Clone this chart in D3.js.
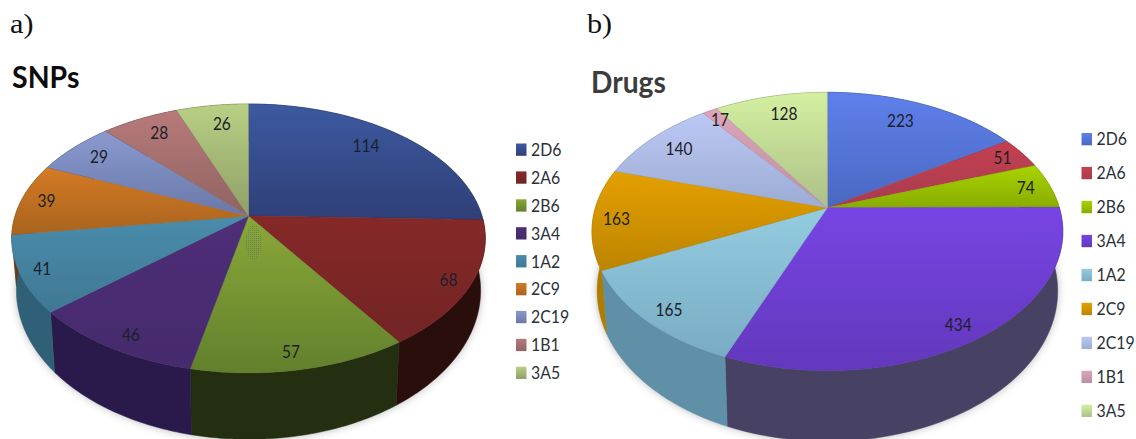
<!DOCTYPE html>
<html>
<head>
<meta charset="utf-8">
<script src="https://cdn.jsdelivr.net/npm/d3@7"></script>
<style>
  html, body { margin: 0; padding: 0; background: #fff; }
  svg { display: block; }
</style>
</head>
<body>
<svg id="chart" width="1136" height="439"></svg>
<script>
const categories = ["2D6", "2A6", "2B6", "3A4", "1A2", "2C9", "2C19", "1B1", "3A5"];

const snpValues = [114, 68, 57, 46, 41, 39, 29, 28, 26];
const snpTopLight = ["#3c5aa0", "#862828", "#8aa838", "#4e2e78", "#4a8cac", "#d47a24", "#8a9ad0", "#b87a7a", "#b8d084"];
const snpTopDark  = ["#2f3f78", "#722424", "#62802c", "#452a6c", "#3f7894", "#a8641e", "#6a78a8", "#8e6462", "#909f68"];
const snpSide     = ["#1c2850", "#2a0e0c", "#232f10", "#2a1a4c", "#2f6078", "#6a3c10", "#3c4468", "#5a3c3c", "#5c6840"];

const drugValues = [223, 51, 74, 434, 165, 163, 140, 17, 128];
const drugTopLight = ["#5f80ec", "#c4404e", "#a8d400", "#7844e4", "#94cce0", "#e4a000", "#bcc8f4", "#e0a4b8", "#d4f0a0"];
const drugTopDark  = ["#4a68c0", "#a83c50", "#88ac00", "#6238bc", "#78acc4", "#bc8400", "#9cacd4", "#b890a4", "#acc088"];
const drugSide     = ["#34487c", "#7c2c38", "#5c7400", "#474263", "#5f90a8", "#b07c00", "#7484a8", "#8c6c7c", "#84946c"];

// Label anchors on the disc: distance from the apex and position across the slice.
const snpLabelRadius  = [0.81, 0.91, 0.90, 0.90, 0.91, 0.89, 0.85, 0.83, 0.81];
const snpLabelTurn    = [0.47, 0.51, 0.52, 0.46, 0.50, 0.50, 0.52, 0.55, 0.56];
const drugLabelRadius = [0.81, 0.90, 0.89, 0.90, 0.90, 0.90, 0.84, 0.905, 0.82];
const drugLabelTurn   = [0.45, 0.46, 0.50, 0.51, 0.48, 0.49, 0.50, 0.50, 0.545];

const panels = [
  { key: "snp", tag: "a)", tagX: 10, tagY: 33, title: "SNPs", titleX: 12, titleY: 87.5, titleScale: 0.95, titleColor: "#0c0c0c",
    values: snpValues, light: snpTopLight, dark: snpTopDark, side: snpSide,
    labelRadius: snpLabelRadius, labelTurn: snpLabelTurn,
    cx: 248.5, cy: 216, rx: 233.5, ry: 130.7, k: 0.167, rimS: 0.98, rimSY: 1.107, rimD: 49.6,
    legendX: 516, legendTop: 149.5, legendStep: 27.9 },
  { key: "drug", tag: "b)", tagX: 587, tagY: 33, title: "Drugs", titleX: 591, titleY: 92.7, titleScale: 0.94, titleColor: "#3c3c3c",
    values: drugValues, light: drugTopLight, dark: drugTopDark, side: drugSide,
    labelRadius: drugLabelRadius, labelTurn: drugLabelTurn,
    cx: 827.4, cy: 207.7, rx: 232, ry: 135.1, k: 0.171, rimS: 0.978, rimSY: 1.08, rimD: 57.6,
    legendX: 1081.5, legendTop: 139, legendStep: 33.96 }
];

const sansFont = "Lato, 'Open Sans', sans-serif";

const svg = d3.select("#chart");
const defs = svg.append("defs");

const blur = defs.append("filter").attr("id", "soft").attr("x", "-20%").attr("y", "-20%").attr("width", "140%").attr("height", "140%");
blur.append("feGaussianBlur").attr("stdDeviation", 4);

const stipple = defs.append("pattern").attr("id", "stipple").attr("width", 2).attr("height", 2).attr("patternUnits", "userSpaceOnUse");
stipple.append("rect").attr("width", 1).attr("height", 1).attr("fill", "#6a8650");

// Perspective projection of a unit disc: the near edge is enlarged and the disc's
// centre lands above the middle of the resulting ellipse.
function projector(p) {
  return (angle, radius = 1) => {
    const u = Math.sin(angle) * radius, v = -Math.cos(angle) * radius;
    const w = 1 - p.k * v;
    return [p.cx + p.rx * u / w, p.cy + p.ry * v / w];
  };
}
function rimProjector(p) {
  const top = projector(p);
  return (angle) => {
    const [x, y] = top(angle);
    return [p.cx + (x - p.cx) * p.rimS, p.cy + p.rimD + (y - p.cy) * p.rimSY];
  };
}

const lineGen = d3.line();
const arcSteps = (a0, a1) => d3.range(0, 61).map(i => a0 + (a1 - a0) * i / 60);

panels.forEach(p => {
  const g = svg.append("g").attr("class", p.key);
  const slices = d3.pie().sort(null).value(d => d)(p.values);
  const top = projector(p);
  const rim = rimProjector(p);

  // Soft shadow under the disc
  g.append("path")
    .attr("d", lineGen(arcSteps(0, 2 * Math.PI).map(rim)) + "Z")
    .attr("fill", "#7a7a7a").attr("opacity", 0.55).attr("filter", "url(#soft)");

  // Outer wall
  g.selectAll("path.side").data(slices).join("path")
    .attr("class", "side")
    .attr("d", d => {
      const angles = arcSteps(d.startAngle, d.endAngle);
      return lineGen(angles.map(a => top(a)).concat(angles.slice().reverse().map(rim))) + "Z";
    })
    .attr("fill", (d, i) => p.side[i])
    .attr("stroke", (d, i) => p.side[i]).attr("stroke-width", 0.5);

  // Top face, each wedge shaded from far edge to apex
  slices.forEach((d, i) => {
    const grad = defs.append("linearGradient").attr("id", `${p.key}-top-${i}`)
      .attr("x1", 0).attr("y1", 0).attr("x2", 0).attr("y2", 1);
    grad.append("stop").attr("offset", "0%").attr("stop-color", p.light[i]);
    grad.append("stop").attr("offset", "100%").attr("stop-color", p.dark[i]);
  });
  g.selectAll("path.top").data(slices).join("path")
    .attr("class", "top")
    .attr("d", d => lineGen([[p.cx, p.cy]].concat(arcSteps(d.startAngle, d.endAngle).map(a => top(a)))) + "Z")
    .attr("fill", (d, i) => `url(#${p.key}-top-${i})`)
    .attr("stroke", (d, i) => p.dark[i]).attr("stroke-width", 0.4);

  // Value labels, set in a narrowed face
  g.selectAll("text.value").data(slices).join("text")
    .attr("class", "value")
    .attr("transform", (d, i) => {
      const a = d.startAngle + (d.endAngle - d.startAngle) * p.labelTurn[i];
      const [x, y] = top(a, p.labelRadius[i]);
      return `translate(${x},${y}) scale(0.86,1)`;
    })
    .attr("text-anchor", "middle").attr("dy", "0.36em")
    .attr("font-family", sansFont)
    .attr("font-size", 18).attr("fill", "#1c2028")
    .text(d => d.value);

  // Panel tag and heading
  g.append("text").attr("transform", `translate(${p.tagX},${p.tagY}) scale(1.12,1)`)
    .attr("font-family", "'Liberation Serif', serif").attr("font-size", 27).attr("fill", "#111").text(p.tag);
  g.append("text").attr("transform", `translate(${p.titleX},${p.titleY}) scale(${p.titleScale},1)`)
    .attr("font-family", sansFont).attr("font-weight", 700)
    .attr("font-size", 30).attr("fill", p.titleColor).text(p.title);

  // Legend
  const legend = g.selectAll("g.legend").data(categories).join("g")
    .attr("class", "legend")
    .attr("transform", (d, i) => `translate(${p.legendX},${p.legendTop + i * p.legendStep})`);
  legend.append("rect").attr("x", 0).attr("y", -6).attr("width", 10.5).attr("height", 12.3)
    .attr("fill", (d, i) => `url(#${p.key}-top-${i})`);
  legend.append("text").attr("transform", "translate(15,0) scale(0.88,1)").attr("dy", "0.36em")
    .attr("font-family", sansFont).attr("font-size", 18).attr("fill", "#2a3038")
    .text(d => d);
});

// Dotted smudge beside the apex of the SNP disc
svg.append("ellipse").attr("cx", 253.5).attr("cy", 242.5).attr("rx", 8).attr("ry", 18)
  .attr("fill", "url(#stipple)");
</script>
</body>
</html>
